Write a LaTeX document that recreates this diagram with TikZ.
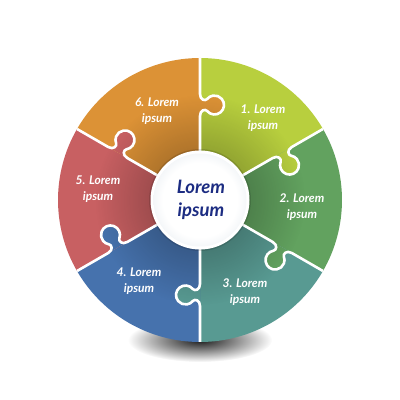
\documentclass[tikz,border=0pt]{standalone}
\usepackage{fontspec}
\setmainfont{Lato}
\usetikzlibrary{fadings}
\definecolor{c1}{HTML}{B8CF3E}
\definecolor{c2}{HTML}{62A25F}
\definecolor{c3}{HTML}{589A92}
\definecolor{c4}{HTML}{4672AD}
\definecolor{c5}{HTML}{C86062}
\definecolor{c6}{HTML}{DC9236}
\definecolor{navy}{HTML}{1C2C82}
\definecolor{rim}{HTML}{BFCDDA}
\pgfdeclareradialshading{innerdisc}{\pgfpoint{0bp}{0bp}}{color(0bp)=(white); color(20bp)=(white); color(50bp)=(rim)}
\tikzfading[name=centerfade, inner color=transparent!62, outer color=transparent!100]
\tikzfading[name=softfade, inner color=transparent!10, outer color=transparent!100]
\begin{document}
\begin{tikzpicture}[x=1pt,y=1pt,
  lbl/.style={text=white, font=\fontsize{12}{15.5}\selectfont\bfseries\itshape, align=center},
  ctr/.style={text=navy, font=\fontsize{18.5}{23}\selectfont\bfseries\itshape, align=center},
  gap/.style={white, line width=2.6}]
\useasboundingbox (0,0) rectangle (400,400);
\fill[white] (0,0) rectangle (400,400);
% shadow under the disc
\fill[black, path fading=softfade] (200,60) ellipse (72 and 22);
% sectors
\foreach \a/\b/\c in {30/90/c1, -30/30/c2, -90/-30/c3, -150/-90/c4, 150/210/c5, 90/150/c6}
  \fill[\c] (200,200) -- ++(\a:142) arc[start angle=\a, end angle=\b, radius=142] -- cycle;
% tabs
\foreach \a/\c in {90/c6, 30/c1, -30/c2, -90/c3, -150/c4, 150/c5} {
  \begin{scope}[shift={(200,200)}, rotate=\a]
    \fill[\c] (84,0) .. controls (90,0) and (91.3,-5.24) .. (89,-7.14)
      arc[start angle=129.2, end angle=410.8, radius=9.5]
      .. controls (98.7,-5.24) and (100,0) .. (106,0) -- cycle;
  \end{scope}
}
% darkening towards the centre
\begin{scope}
  \clip (200,200) circle (142);
  \fill[black, path fading=centerfade] (200,200) circle (105);
\end{scope}
% white joints
\foreach \a in {90,30,-30,-90,-150,150} {
  \begin{scope}[shift={(200,200)}, rotate=\a]
    \draw[gap] (0,0) -- (84,0) .. controls (90,0) and (91.3,-5.24) .. (89,-7.14)
      arc[start angle=129.2, end angle=410.8, radius=9.5]
      .. controls (98.7,-5.24) and (100,0) .. (106,0) -- (142,0);
  \end{scope}
}
% centre disc
\fill[black, opacity=0.12] (200,200) circle (51);
\fill[white] (200,200) circle (49.5);
\shade[shading=innerdisc] (200,200) circle (46.5);
% labels
\node[lbl] (t1) at (263,282) {1. Lorem\\ipsum};
\node[lbl] (t2) at (302,193) {2. Lorem\\ipsum};
\node[lbl] (t3) at (245,108) {3. Lorem\\ipsum};
\node[lbl] (t4) at (139,119) {4. Lorem\\ipsum};
\node[lbl] (t5) at (98,211) {5. Lorem\\ipsum};
\node[lbl] (t6) at (157,289) {6. Lorem\\ipsum};
\node[ctr] (tc) at (201,200) {Lorem\\ipsum};
\end{tikzpicture}
\end{document}
